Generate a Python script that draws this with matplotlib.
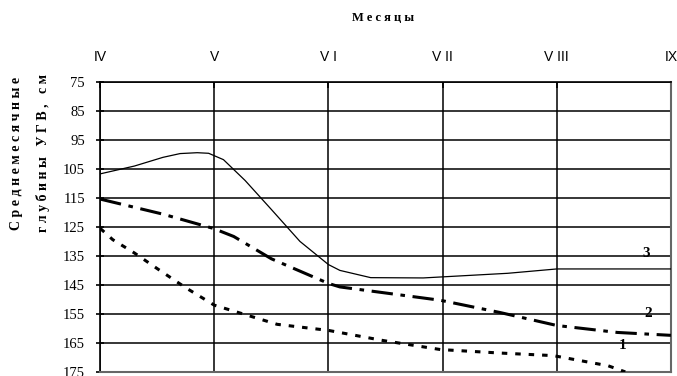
import matplotlib.pyplot as plt

# months on x (IV = 0 ... IX = 5), depth in cm on y
month_labels = ["IV", "V", "V I", "V II", "V III", "IX"]
y_ticks = [75, 85, 95, 105, 115, 125, 135, 145, 155, 165, 175]

x3 = [0, 0.3, 0.55, 0.7, 0.85, 0.95, 1.08, 1.27, 1.5, 1.75, 2.0, 2.1, 2.37, 2.83, 3.57, 4.0, 5.0]
y3 = [106.7, 104, 101, 99.7, 99.4, 99.6, 101.8, 109, 119, 130, 138, 140, 142.5, 142.6, 141, 139.5, 139.5]

x2 = [0, 0.55, 0.99, 1.17, 1.5, 2.0, 2.1, 2.98, 3.5, 4.0, 4.53, 5.0]
y2 = [115.4, 120.6, 125.5, 128.3, 136, 144.5, 145.7, 150.3, 154.5, 159, 161.4, 162.4]

x1 = [0, 0.11, 0.3, 0.5, 0.75, 1.0, 1.55, 2.0, 2.48, 2.98, 3.5, 3.97, 4.45, 4.6]
y1 = [125.5, 129.4, 134, 139.4, 146, 152, 158.6, 160.7, 164.2, 167.3, 168.5, 169.4, 172.9, 175]

fig = plt.figure(figsize=(6.77, 3.76), dpi=100)
ax = fig.add_axes([0.148, 0.011, 0.843, 0.771])

for v in y_ticks:
    ax.axhline(v, color="black", lw=1.1, zorder=1)
for m in range(6):
    ax.axvline(m, color="black", lw=1.1, zorder=1)

ax.plot(x3, y3, color="black", lw=0.9, zorder=3)
ax.plot(x2, y2, color="black", lw=2.2, dashes=(7, 2.5, 1.5, 2.5), zorder=3)
ax.plot(x1, y1, color="black", lw=2.2, dashes=(1.8, 2.6), zorder=3)

serif = "Liberation Serif"
ax.text(4.78, 134, "3", fontsize=11, fontweight="bold", family=serif, ha="center", va="center")
ax.text(4.8, 155, "2", fontsize=11, fontweight="bold", family=serif, ha="center", va="center")
ax.text(4.58, 166, "1", fontsize=11, fontweight="bold", family=serif, ha="center", va="center")

ax.set_xlim(0, 5)
ax.set_ylim(175, 75)
ax.set_yticks(y_ticks)
ax.set_yticklabels([str(v) for v in y_ticks], family=serif, fontsize=10.5)
ax.set_xticks(range(6))
ax.set_xticklabels(month_labels, family="Liberation Sans", fontsize=10)
ax.xaxis.tick_top()
ax.tick_params(axis="x", direction="in", length=4, width=1.2, pad=13)
ax.tick_params(axis="y", direction="inout", length=6, width=1.2, pad=8)

for s in ["left", "top"]:
    ax.spines[s].set_linewidth(1.2)
for s in ["right", "bottom"]:
    ax.spines[s].set_color("#666666")
    ax.spines[s].set_linewidth(1.5)


def spaced(text, gap=" "):
    return gap.join(text)


fig.text(0.566, 0.952, spaced("Месяцы"), family=serif, fontweight="bold", fontsize=9,
         ha="center", va="center")
fig.text(0.024, 0.593, spaced("Среднемесячные"), family=serif, fontweight="bold", fontsize=10,
         rotation=90, ha="center", va="center")
fig.text(0.063, 0.593, spaced("глубины УГВ, см"), family=serif, fontweight="bold", fontsize=10,
         rotation=90, ha="center", va="center")

fig.savefig("out.png", dpi=100)
